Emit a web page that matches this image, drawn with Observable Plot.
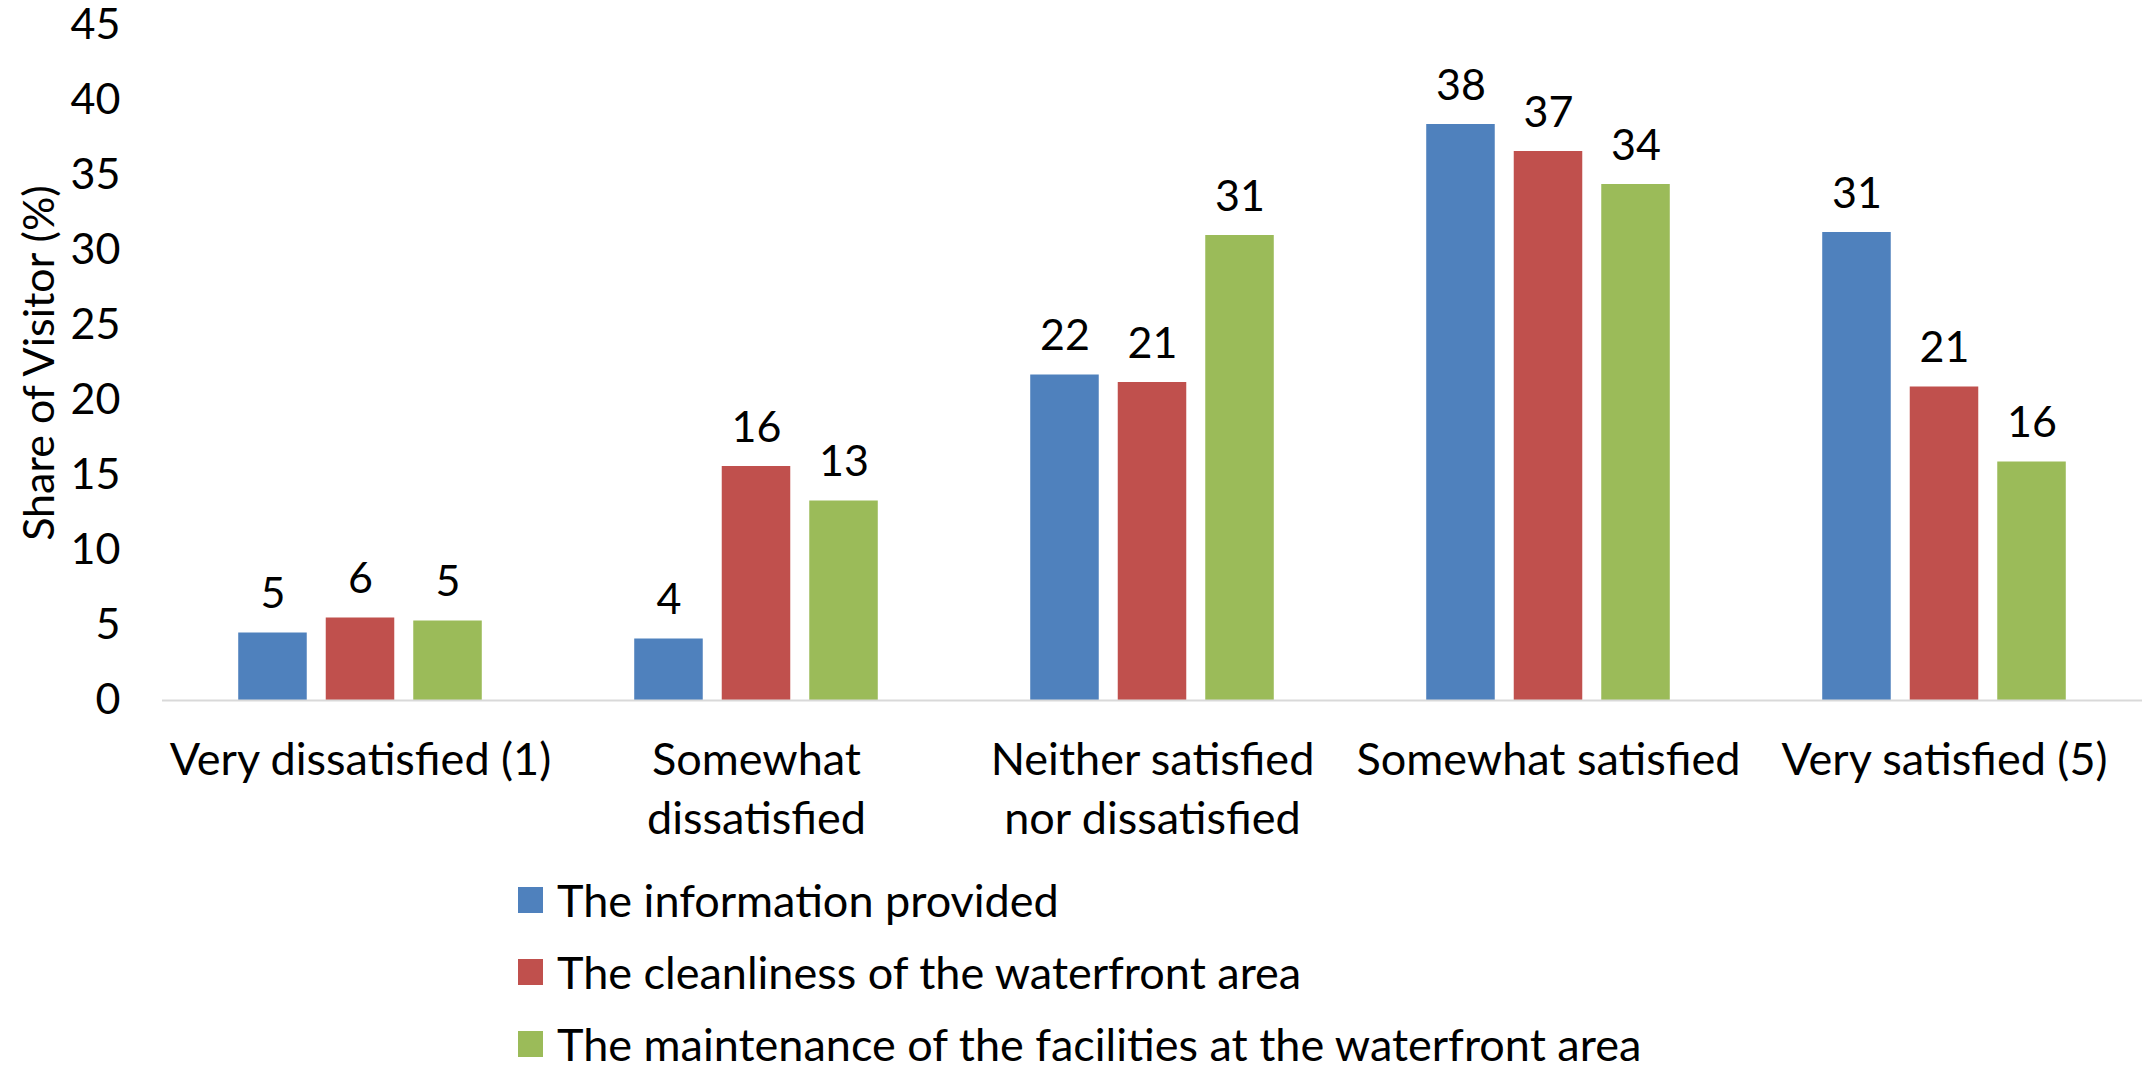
<!DOCTYPE html>
<html>
<head>
<meta charset="utf-8">
<script src="https://cdn.jsdelivr.net/npm/d3@7"></script>
<script src="https://cdn.jsdelivr.net/npm/@observablehq/plot@0.6"></script>
<style>
  html, body { margin: 0; padding: 0; background: #fff; }
  #chart { width: 2146px; }
  .legend { padding-top: 4px; padding-left: 518px; font-family: Lato, sans-serif; font-size: 45px; color: #000; }
  .legend .row { height: 72px; display: flex; align-items: center; }
  .legend .sw { width: 25px; height: 26px; margin-right: 14px; flex: none; }
</style>
</head>
<body>
<div id="chart"></div>
<script>
const categories = [
  "Very dissatisfied (1)",
  "Somewhat\ndissatisfied",
  "Neither satisfied\nnor dissatisfied",
  "Somewhat satisfied",
  "Very satisfied (5)"
];
const series = [
  "The information provided",
  "The cleanliness of the waterfront area",
  "The maintenance of the facilities at the waterfront area"
];
const infoValues = [4.5, 4.1, 21.7, 38.4, 31.2];
const cleanValues = [5.5, 15.6, 21.2, 36.6, 20.9];
const maintValues = [5.3, 13.3, 31.0, 34.4, 15.9];
const seriesColors = ["#4F81BD", "#C0504D", "#9BBB59"];
const yTicks = [0, 5, 10, 15, 20, 25, 30, 35, 40, 45];
const yTitle = "Share of Visitor (%)";

const valuesBySeries = [infoValues, cleanValues, maintValues];
const data = [];
categories.forEach((c, i) => {
  series.forEach((s, j) => {
    data.push({category: c, series: s, value: valuesBySeries[j][i]});
  });
});

const chart = Plot.plot({
  width: 2146,
  height: 860,
  marginLeft: 162,
  marginRight: 4,
  marginTop: 25,
  marginBottom: 160,
  style: {fontFamily: "Lato, sans-serif", fontSize: "43px", color: "#000", background: "#fff"},
  fx: {domain: categories, padding: 0, label: null},
  x: {domain: series, paddingInner: 0.217, paddingOuter: 0.871, round: false, axis: null},
  y: {domain: [0, 45], label: null},
  color: {domain: series, range: seriesColors},
  marks: [
    Plot.axisY({ticks: yTicks, tickSize: 0, tickPadding: 42, fontSize: 43, fill: "#000",
      label: yTitle, labelAnchor: "center", labelArrow: "none", labelOffset: 139}),
    Plot.axisFx({anchor: "bottom", tickSize: 0, tickPadding: 33, fontSize: 45, lineHeight: 1.31, label: null, fill: "#000"}),
    Plot.barY(data, {fx: "category", x: "series", y: "value", fill: "series"}),
    Plot.ruleY([0], {stroke: "#d9d9d9", strokeWidth: 2}),
    Plot.text(data, {fx: "category", x: "series", y: "value", text: d => String(Math.round(d.value)),
      lineAnchor: "bottom", dy: -25, fontSize: 43, fill: "#000"})
  ]
});
document.getElementById("chart").appendChild(chart);

const legend = document.createElement("div");
legend.className = "legend";
series.forEach((s, j) => {
  const row = document.createElement("div");
  row.className = "row";
  const sw = document.createElement("span");
  sw.className = "sw";
  sw.style.background = seriesColors[j];
  const lab = document.createElement("span");
  lab.textContent = s;
  row.appendChild(sw);
  row.appendChild(lab);
  legend.appendChild(row);
});
document.getElementById("chart").appendChild(legend);
</script>
</body>
</html>
